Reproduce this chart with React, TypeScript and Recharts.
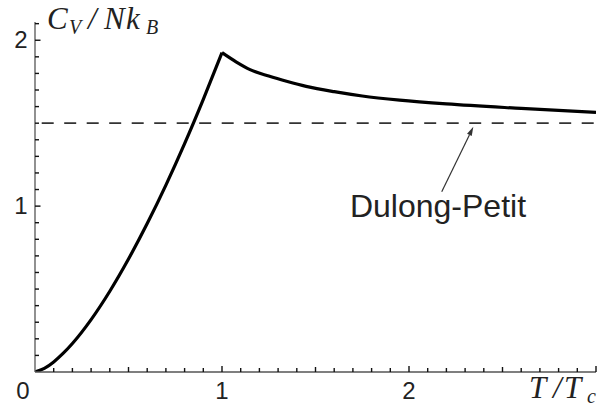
import { LineChart, Line, XAxis, YAxis, ReferenceLine, ReferenceDot } from 'recharts'

// T/Tc and Cv/NkB, below and above the transition
const belowT = [0, 0.05, 0.1, 0.15, 0.2, 0.3, 0.4, 0.5, 0.6, 0.7, 0.8, 0.9, 1.0]
const belowCv = [0, 0.022, 0.061, 0.112, 0.172, 0.316, 0.487, 0.681, 0.895, 1.127, 1.377, 1.644, 1.925]
const aboveT = [1.0, 1.075, 1.15, 1.25, 1.35, 1.45, 1.6, 1.75, 1.95, 2.2, 2.6, 3.0]
const aboveCv = [1.925, 1.87, 1.823, 1.784, 1.751, 1.722, 1.69, 1.664, 1.639, 1.616, 1.589, 1.565]

const xTicks = Array.from({ length: 31 }, (_, i) => i / 10)
const yTicks = Array.from({ length: 22 }, (_, i) => i / 10)
const xLabels = ['0', '1', '2']
const yLabels = ['1', '2']

const dulongPetit = 1.5
const arrowFrom = { x: 2.175, y: 1.086 }
const arrowTo = { x: 2.344, y: 1.478 }
const notePos = { x: 2.155, y: 0.934 }
const noteText = 'Dulong-Petit'

const below = belowT.map((t, i) => ({ t, cv: belowCv[i] }))
const above = aboveT.map((t, i) => ({ t, cv: aboveCv[i] }))

const SANS = '"Liberation Sans", Arial, sans-serif'
const SERIF = '"Liberation Serif", "Times New Roman", serif'

function isWhole(v: number) {
  return Math.abs(v - Math.round(v)) < 1e-6
}

function XTick(props: any) {
  const { x, y, payload } = props
  const v = Number(payload.value)
  const half = Math.abs(v * 2 - Math.round(v * 2)) < 1e-6
  const len = isWhole(v) ? 6 : half ? 5 : 4
  const label = isWhole(v) && xLabels.includes(String(Math.round(v)))
  return (
    <g>
      {v > 0 && <rect x={x - 0.7} y={y - len} width={1.4} height={len} fill="#111" />}
      {label && (
        <text x={v === 0 ? x - 12 : x} y={y + 27} textAnchor="middle" fontFamily={SANS} fontSize={24} fill="#222">
          {Math.round(v)}
        </text>
      )}
    </g>
  )
}

function YTick(props: any) {
  const { x, y, payload } = props
  const v = Number(payload.value)
  const len = isWhole(v) ? 5.5 : 4
  const label = isWhole(v) && yLabels.includes(String(Math.round(v)))
  return (
    <g>
      {v > 0 && <rect x={x} y={y - 0.7} width={len} height={1.4} fill="#111" />}
      {label && (
        <text x={x - 14} y={y + 8} textAnchor="middle" fontFamily={SANS} fontSize={24} fill="#222">
          {Math.round(v)}
        </text>
      )}
    </g>
  )
}

function Arrow(props: any) {
  const { x1, y1, x2, y2 } = props
  const dx = x2 - x1
  const dy = y2 - y1
  const l = Math.hypot(dx, dy)
  const ux = dx / l
  const uy = dy / l
  const hl = 9
  const hw = 2.6
  const bx = x2 - ux * hl
  const by = y2 - uy * hl
  return (
    <g>
      <line x1={x1} y1={y1} x2={bx} y2={by} stroke="#333" strokeWidth={1.2} />
      <polygon
        points={`${x2},${y2} ${bx - uy * hw},${by + ux * hw} ${bx + uy * hw},${by - ux * hw}`}
        fill="#333"
      />
    </g>
  )
}

function Note(props: any) {
  return (
    <text x={props.cx} y={props.cy} textAnchor="middle" fontFamily={SANS} fontSize={32} fill="#222">
      {noteText}
    </text>
  )
}

export default function App() {
  return (
    <div style={{ position: 'absolute', left: 0, top: 0, width: 600, height: 409, background: '#fff' }}>
      <LineChart width={600} height={409} margin={{ top: 22, right: 4, left: 0, bottom: 0 }}>
        <XAxis
          type="number"
          dataKey="t"
          domain={[0, 3]}
          ticks={xTicks}
          interval={0}
          height={37}
          tickSize={0}
          tickMargin={0}
          tickLine={false}
          axisLine={{ stroke: '#555', strokeWidth: 1.3 }}
          tick={<XTick />}
          allowDataOverflow
        />
        <YAxis
          type="number"
          domain={[0, 2.11]}
          ticks={yTicks}
          interval={0}
          width={35}
          tickSize={0}
          tickMargin={0}
          tickLine={false}
          axisLine={{ stroke: '#555', strokeWidth: 1.3 }}
          tick={<YTick />}
          allowDataOverflow
        />
        <ReferenceLine
          y={dulongPetit}
          stroke="#333"
          strokeWidth={1.8}
          strokeDasharray="12 10.5"
          strokeDashoffset={15.8}
        />
        <ReferenceLine segment={[arrowFrom, arrowTo]} shape={<Arrow />} ifOverflow="visible" />
        <ReferenceDot x={notePos.x} y={notePos.y} shape={<Note />} ifOverflow="visible" />
        <Line data={below} dataKey="cv" type="monotone" stroke="#000" strokeWidth={3.2} dot={false} isAnimationActive={false} />
        <Line data={above} dataKey="cv" type="monotone" stroke="#000" strokeWidth={3.2} dot={false} isAnimationActive={false} />
      </LineChart>
      <svg width={600} height={409} style={{ position: 'absolute', left: 0, top: 0, pointerEvents: 'none' }}>
        <text fontFamily={SERIF} fontStyle="italic" fill="#222" fontSize={31}>
          <tspan x={47} y={29}>C</tspan>
          <tspan x={69} y={34} fontSize={20}>V</tspan>
          <tspan x={88} y={29}>/</tspan>
          <tspan x={104} y={29}>N</tspan>
          <tspan x={126} y={29}>k</tspan>
          <tspan x={146} y={34} fontSize={20}>B</tspan>
        </text>
        <text fontFamily={SERIF} fontStyle="italic" fill="#222" fontSize={31}>
          <tspan x={529} y={398}>T</tspan>
          <tspan x={553} y={398}>/</tspan>
          <tspan x={564} y={398}>T</tspan>
          <tspan x={587} y={403} fontSize={20}>c</tspan>
        </text>
      </svg>
    </div>
  )
}
